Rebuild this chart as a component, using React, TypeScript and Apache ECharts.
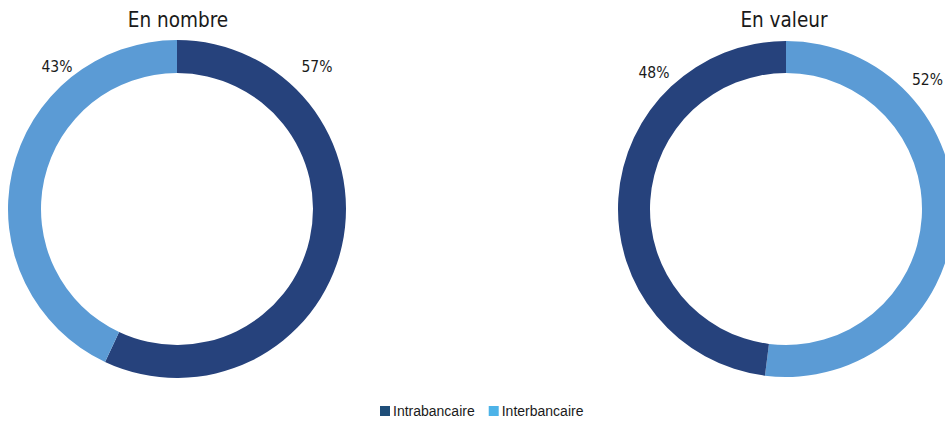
import React, { useEffect, useRef } from 'react';
import * as echarts from 'echarts';

const categories = ['Intrabancaire', 'Interbancaire'];
const panelTitles = ['En nombre', 'En valeur'];
const nombreValues = [57, 43]; // Intrabancaire, Interbancaire
const valeurValues = [48, 52]; // Intrabancaire, Interbancaire

const sliceColors = ['#26427C', '#5B9BD5'];
const legendColors = ['#1F4E79', '#4DB3E8'];
const narrow = "'DejaVu Sans Condensed', 'Liberation Sans', sans-serif";
const regular = "'Liberation Sans', Arial, sans-serif";

export default function App() {
  const ref = useRef<HTMLDivElement>(null);
  useEffect(() => {
    document.body.style.margin = '0';
    if (!ref.current) return;
    const chart = echarts.init(ref.current, undefined, { renderer: 'svg' });
    const pieBase = {
      type: 'pie' as const,
      startAngle: 90,
      clockwise: true,
      silent: true,
      label: { show: false },
      labelLine: { show: false },
      emphasis: { disabled: true },
      itemStyle: { borderWidth: 0 },
    };
    const label = (text: string, x: number, y: number, align = 'center') => ({
      type: 'text',
      x,
      y,
      style: {
        text,
        fontFamily: narrow,
        fontSize: 15.5,
        fill: '#1a1a1a',
        textAlign: align,
        textVerticalAlign: 'middle',
      },
    });
    const title = (text: string, x: number) => ({
      type: 'text', x, y: 20,
      style: { text, fontFamily: narrow, fontSize: 20.5, fill: '#1a1a1a', textAlign: 'center', textVerticalAlign: 'middle' },
    });
    chart.setOption({
      animation: false,
      legend: {
        top: 399,
        left: 375,
        icon: 'rect',
        itemWidth: 10,
        itemHeight: 10,
        itemGap: 14,
        textStyle: { fontFamily: regular, fontSize: 14, color: '#1a1a1a', padding: [0, 0, 0, -2] },
        data: categories.map((c, i) => ({ name: c, itemStyle: { color: legendColors[i] } })),
      },
      series: [
        {
          ...pieBase,
          name: panelTitles[0],
          center: [177, 209],
          radius: [136, 169],
          data: categories.map((c, i) => ({ name: c, value: nombreValues[i], itemStyle: { color: sliceColors[i] } })),
        },
        {
          ...pieBase,
          name: panelTitles[1],
          center: [786, 209],
          radius: [136, 168],
          data: [1, 0].map((i) => ({ name: categories[i], value: valeurValues[i], itemStyle: { color: sliceColors[i] } })),
        },
      ],
      graphic: [
        title(panelTitles[0], 178),
        title(panelTitles[1], 784),
        label(`${nombreValues[0]}%`, 317, 67),
        label(`${nombreValues[1]}%`, 57, 67),
        label(`${valeurValues[0]}%`, 654, 73),
        label(`${valeurValues[1]}%`, 912, 80, 'left'),
      ],
    });
    return () => chart.dispose();
  }, []);
  return <div ref={ref} style={{ width: 945, height: 421 }} />;
}
